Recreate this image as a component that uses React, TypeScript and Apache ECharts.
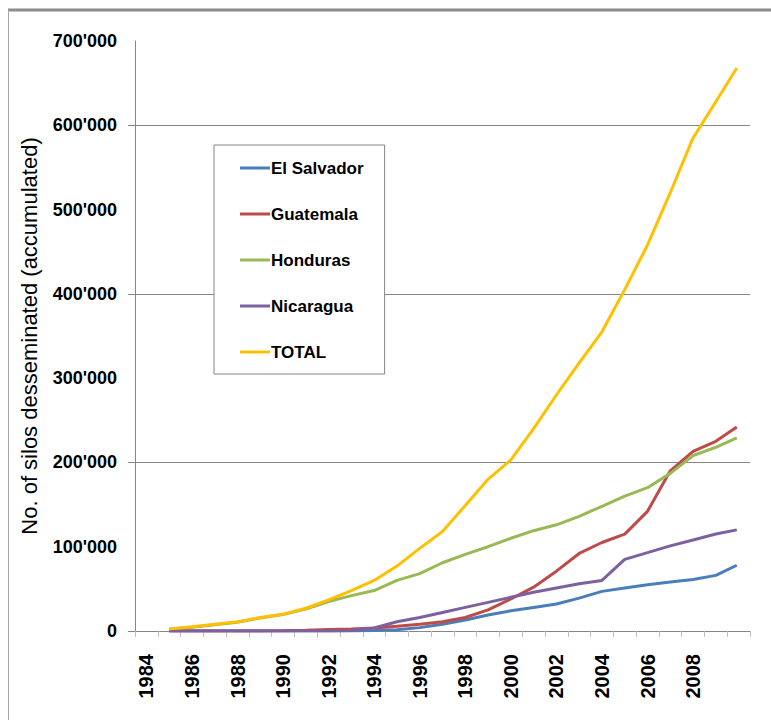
import React, { useEffect, useRef } from "react";
import * as echarts from "echarts";

const categoryYears = [
  "1984", "1985", "1986", "1987", "1988", "1989", "1990", "1991", "1992",
  "1993", "1994", "1995", "1996", "1997", "1998", "1999", "2000", "2001",
  "2002", "2003", "2004", "2005", "2006", "2007", "2008", "2009", "2010",
];

const times = [
  1985, 1986, 1987, 1988, 1989, 1990, 1991, 1992, 1993, 1994, 1995, 1996, 1997,
  1998, 1999, 2000, 2001, 2002, 2003, 2004, 2005, 2006, 2007, 2008, 2009, 2009.92,
];

const elSalvador = [
  0, 0, 0, 0, 0, 0, 0, 0, 0, 500, 1500, 4000, 8000, 13000, 19000, 24000, 28000,
  32000, 39000, 47000, 51000, 55000, 58000, 61000, 66000, 78000,
];
const guatemala = [
  0, 0, 0, 0, 0, 200, 800, 1800, 2500, 3500, 5500, 8000, 11000, 16000, 25000,
  38000, 52000, 71000, 92000, 105000, 115000, 142000, 190000, 213000, 225000, 242000,
];
const honduras = [
  2000, 4500, 7500, 10500, 15500, 19500, 26000, 35000, 42000, 48000, 60000, 68000,
  81000, 91000, 100000, 110000, 119000, 126000, 136000, 148000, 160000, 170000,
  187000, 208000, 218000, 229000,
];
const nicaragua = [
  0, 0, 0, 0, 0, 0, 0, 0, 500, 3500, 11000, 16000, 22000, 28000, 34000, 40000,
  46000, 51000, 56000, 60000, 85000, 93000, 101000, 108000, 115000, 120000,
];
const total = [
  2500, 5000, 8000, 11000, 16000, 20000, 27000, 37000, 48000, 60000, 77000, 98000,
  118000, 149000, 180000, 203000, 240000, 280000, 318000, 355000, 405000, 458000,
  520000, 585000, 628000, 668000,
];

const seriesNames = ["El Salvador", "Guatemala", "Honduras", "Nicaragua", "TOTAL"];
const seriesValues = [elSalvador, guatemala, honduras, nicaragua, total];
const seriesColors = ["#4A7EBB", "#BE4B48", "#98B954", "#7D60A0", "#FFC000"];

const yTicks = [0, 200000, 400000, 600000];

const FONT = "'Liberation Sans', Arial, sans-serif";

export default function App() {
  const ref = useRef<HTMLDivElement>(null);

  useEffect(() => {
    if (!ref.current) return;
    const chart = echarts.init(ref.current, null, { renderer: "svg" });
    const option: any = {
      animation: false,
      backgroundColor: "#ffffff",
      textStyle: { fontFamily: FONT },
      grid: { left: 135, right: 21, top: 41, bottom: 89, containLabel: false },
      graphic: [
        {
          type: "line",
          shape: { x1: 8, y1: 10, x2: 771, y2: 10 },
          style: { stroke: "#8c8c8c", lineWidth: 3 },
        },
        {
          type: "line",
          shape: { x1: 8.5, y1: 10, x2: 8.5, y2: 720 },
          style: { stroke: "#a6a6a6", lineWidth: 1 },
        },
      ],
      legend: {
        orient: "vertical",
        left: 214,
        top: 145,
        padding: [13, 21, 12, 26],
        itemGap: 26,
        itemWidth: 30,
        itemHeight: 3,
        icon: "rect",
        borderColor: "#868686",
        borderWidth: 1,
        backgroundColor: "#ffffff",
        data: seriesNames,
        textStyle: {
          fontFamily: FONT,
          fontSize: 17,
          fontWeight: "bold",
          color: "#000000",
          lineHeight: 20,
          padding: [0, 0, 0, -4],
        },
      },
      xAxis: [
        {
          type: "category",
          data: categoryYears,
          boundaryGap: true,
          axisLine: { show: true, lineStyle: { color: "#868686", width: 1 } },
          axisTick: { show: true, interval: 0, length: 6, lineStyle: { color: "#bfbfbf" } },
          axisLabel: {
            interval: (i: number) => i % 2 === 0 && i <= 24,
            rotate: 90,
            fontFamily: FONT,
            fontSize: 20,
            fontWeight: "bold",
            color: "#000000",
            margin: 23,
          },
          splitLine: { show: false },
        },
        {
          type: "value",
          min: 1983.5,
          max: 2010.5,
          show: false,
          splitLine: { show: false },
        },
      ],
      yAxis: {
        type: "value",
        min: 0,
        max: 700000,
        interval: 100000,
        name: "No. of silos desseminated (accumulated)",
        nameLocation: "middle",
        nameGap: 95,
        nameTextStyle: { fontFamily: FONT, fontSize: 22, color: "#000000" },
        axisLine: { show: true, lineStyle: { color: "#868686", width: 1 } },
        axisTick: {
          show: true,
          length: 7,
          customValues: yTicks,
          lineStyle: { color: "#868686" },
        },
        splitLine: { show: true, lineStyle: { color: "#868686", width: 1 } },
        axisLabel: {
          fontFamily: FONT,
          fontSize: 18,
          fontWeight: "bold",
          color: "#000000",
          margin: 18,
          formatter: (v: number) => (v === 0 ? "0" : `${v / 1000}'000`),
        },
      },
      series: seriesNames.map((name, k) => ({
        name,
        type: "line",
        xAxisIndex: 1,
        yAxisIndex: 0,
        data: times.map((t, i) => [t, seriesValues[k][i]]),
        showSymbol: false,
        symbol: "none",
        color: seriesColors[k],
        lineStyle: { color: seriesColors[k], width: 3 },
        z: 2 + k,
      })),
    };
    chart.setOption(option);
    return () => chart.dispose();
  }, []);

  return (
    <div
      ref={ref}
      style={{ position: "absolute", left: 0, top: 0, width: 771, height: 720 }}
    />
  );
}
